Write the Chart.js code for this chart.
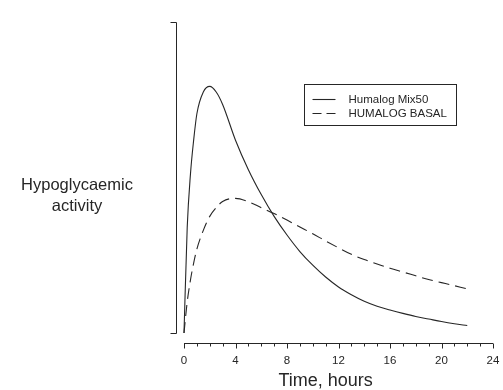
<!DOCTYPE html>
<html>
<head>
<meta charset="utf-8">
<script src="https://cdn.jsdelivr.net/npm/chart.js@4.4.1/dist/chart.umd.min.js"></script>
<style>
  html, body { margin: 0; padding: 0; background: #ffffff; }
  #wrap { width: 503px; height: 390px; }
</style>
</head>
<body>
<div id="wrap"><canvas id="c" width="503" height="390"></canvas></div>
<script>
// ---- data ----
const hours = [0, 0.25, 0.5, 0.75, 1, 1.5, 2, 2.5, 3, 4, 5, 6, 7, 8, 9, 10, 11, 12, 13, 14, 15, 16, 17, 18, 19, 20, 21, 22];
const mix50 = [0, 34, 51, 62, 70.5, 77.5, 79.3, 77.5, 73.5, 62, 52.5, 44.5, 37.5, 31.5, 26.2, 21.8, 18.0, 14.8, 12.3, 10.2, 8.6, 7.4, 6.3, 5.3, 4.5, 3.7, 3.0, 2.4];
const basal = [0, 10, 17, 22.5, 27, 33, 37.5, 40.3, 42.3, 43.3, 42.2, 40.3, 38.4, 36.3, 34.1, 31.9, 29.6, 27.4, 25.3, 23.6, 22.2, 20.8, 19.6, 18.4, 17.2, 16.2, 15.2, 14.2];
const xTicks = [0, 4, 8, 12, 16, 20, 24];
const seriesNames = ['Humalog Mix50', 'HUMALOG BASAL'];
const xTitle = 'Time, hours';
const yTitle = ['Hypoglycaemic', 'activity'];

const toXY = (ys) => hours.map((h, i) => ({ x: h, y: ys[i] }));
const INK = '#262626';
const FONT = '"Liberation Sans", Arial, Helvetica, sans-serif';

const axesPlugin = {
  id: 'rAxes',
  afterDraw(chart) {
    const ctx = chart.ctx;
    const xs = chart.scales.x, ys = chart.scales.y;
    const x0 = xs.getPixelForValue(0), x24 = xs.getPixelForValue(24);
    const yBase = ys.getPixelForValue(0), yTop = ys.getPixelForValue(100);
    ctx.save();
    ctx.strokeStyle = INK;
    ctx.fillStyle = INK;
    ctx.lineWidth = 1;
    // x axis (detached below)
    const ax = Math.round(yBase + 10) + 0.5;
    ctx.beginPath();
    ctx.moveTo(x0, ax); ctx.lineTo(x24, ax);
    for (let h = 0; h <= 24; h++) {
      const px = Math.round(xs.getPixelForValue(h)) + 0.5;
      const len = (h % 4 === 0) ? 5 : 3;
      ctx.moveTo(px, ax); ctx.lineTo(px, ax + len);
    }
    ctx.stroke();
    ctx.font = '11.5px ' + FONT;
    ctx.textAlign = 'center';
    ctx.textBaseline = 'middle';
    xTicks.forEach(v => ctx.fillText(String(v), xs.getPixelForValue(v), ax + 17));
    ctx.font = '18px ' + FONT;
    ctx.fillText(xTitle, xs.getPixelForValue(11), ax + 38);
    // y axis (detached left)
    const ay = Math.round(x0 - 8) + 0.5;
    ctx.beginPath();
    ctx.moveTo(ay, Math.round(yTop) + 0.5); ctx.lineTo(ay, Math.round(yBase) + 0.5);
    ctx.moveTo(ay, Math.round(yTop) + 0.5); ctx.lineTo(ay - 6, Math.round(yTop) + 0.5);
    ctx.moveTo(ay, Math.round(yBase) + 0.5); ctx.lineTo(ay - 6, Math.round(yBase) + 0.5);
    ctx.stroke();
    ctx.font = '16.5px ' + FONT;
    ctx.fillText(yTitle[0], 77, 185);
    ctx.fillText(yTitle[1], 77, 206);
    // legend box
    const lx = 304.5, ly = 84.5, lw = 152, lh = 41;
    ctx.strokeRect(lx, ly, lw, lh);
    ctx.font = '11.5px ' + FONT;
    ctx.textAlign = 'left';
    const rows = [ly + 15, ly + 29];
    ctx.lineWidth = 1.1;
    ctx.beginPath();
    ctx.moveTo(lx + 8, rows[0]); ctx.lineTo(lx + 31, rows[0]);
    ctx.stroke();
    ctx.setLineDash([9, 5]);
    ctx.beginPath();
    ctx.moveTo(lx + 8, rows[1]); ctx.lineTo(lx + 31, rows[1]);
    ctx.stroke();
    ctx.setLineDash([]);
    ctx.fillText(seriesNames[0], lx + 44, rows[0]);
    ctx.fillText(seriesNames[1], lx + 44, rows[1]);
    ctx.restore();
  }
};

new Chart(document.getElementById('c'), {
  type: 'line',
  data: {
    datasets: [
      { label: seriesNames[0], data: toXY(mix50), borderColor: INK, borderWidth: 1.1,
        pointRadius: 0, cubicInterpolationMode: 'monotone', fill: false, clip: false },
      { label: seriesNames[1], data: toXY(basal), borderColor: INK, borderWidth: 1.1,
        borderDash: [11, 6], pointRadius: 0, cubicInterpolationMode: 'monotone', fill: false, clip: false }
    ]
  },
  options: {
    responsive: false,
    animation: false,
    devicePixelRatio: 1,
    layout: { padding: { left: 184, right: 10, top: 22, bottom: 57 } },
    scales: {
      x: { type: 'linear', min: 0, max: 24, display: false },
      y: { type: 'linear', min: 0, max: 100, display: false }
    },
    plugins: { legend: { display: false }, tooltip: { enabled: false } }
  },
  plugins: [axesPlugin]
});
</script>
</body>
</html>
